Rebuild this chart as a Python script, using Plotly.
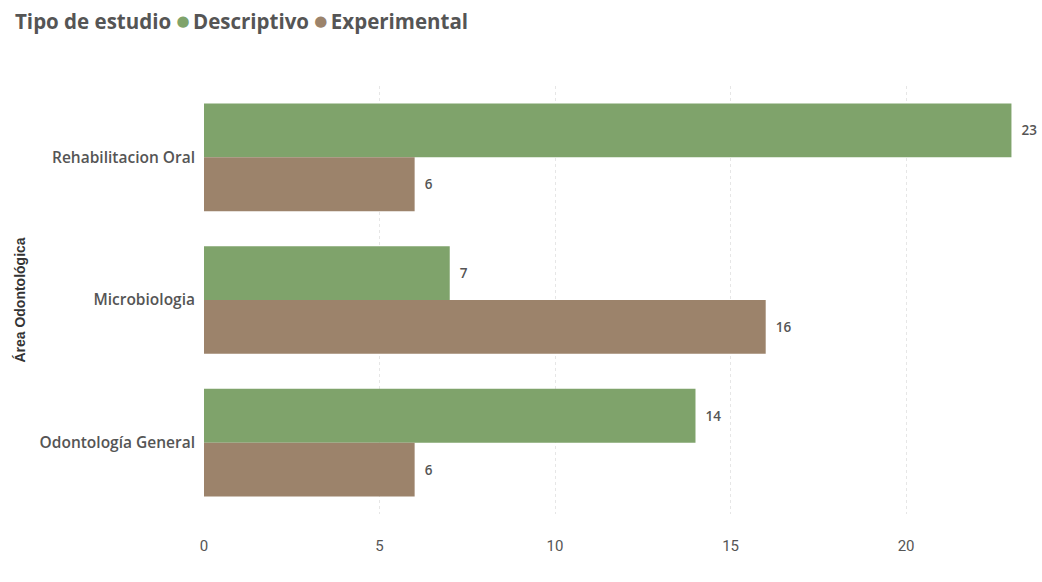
import plotly.graph_objects as go

# Studies per dental area, split by study type
areas = ["Rehabilitacion Oral", "Microbiologia", "Odontología General"]
descriptivo = [23, 7, 14]
experimental = [6, 16, 6]
x_ticks = [0, 5, 10, 15, 20]

green = "#7fa36b"
brown = "#9c836b"
text_col = "#555555"
font_family = "Open Sans, Noto Sans, sans-serif"
pad = "\u00a0\u00a0"

fig = go.Figure()

for name, vals, col in [("Descriptivo", descriptivo, green),
                        ("Experimental", experimental, brown)]:
    fig.add_trace(go.Bar(
        y=areas, x=vals, name=name, orientation="h",
        marker=dict(color=col, line=dict(width=0)),
        text=[pad + str(v) for v in vals], textposition="outside",
        textfont=dict(size=13.5, color=text_col, family=font_family, weight=600),
        cliponaxis=False, showlegend=False,
    ))

# Legend line drawn as text with coloured dots
dot = ("<span style='color:{c};font-family:DejaVu Sans;"
       "font-size:15px;baseline-shift:3px'>●</span>\u2009")
legend_html = (
    "Tipo de estudio "
    + dot.format(c=green) + "Descriptivo "
    + dot.format(c=brown) + "Experimental"
)

plot_w = 1042 - 204 - 13
plot_h = 582 - 86 - 68
fig.add_annotation(
    text=legend_html, xref="paper", yref="paper",
    x=(13 - 204) / plot_w, y=1 + (86 - 21) / plot_h,
    xanchor="left", yanchor="middle", showarrow=False,
    font=dict(size=20.5, color=text_col, family=font_family, weight=700),
)

fig.update_layout(
    width=1042, height=582,
    margin=dict(l=204, r=13, t=86, b=68, autoexpand=False),
    paper_bgcolor="white", plot_bgcolor="white",
    barmode="group", bargap=0.245, bargroupgap=0,
    font=dict(family=font_family, color=text_col),
    showlegend=False,
    xaxis=dict(
        range=[0, 23.5], tickvals=x_ticks,
        showgrid=True, gridcolor="#e6e6e6", griddash="dot", gridwidth=1,
        zeroline=False, showline=False,
        tickfont=dict(size=15, color=text_col,
                      family="Liberation Sans Narrow, Roboto, sans-serif"),
        ticklabelstandoff=21,
    ),
    yaxis=dict(
        categoryorder="array", categoryarray=areas, autorange="reversed",
        showgrid=False, zeroline=False, showline=False,
        tickfont=dict(size=15.5, color=text_col, weight=600),
        ticklabelstandoff=8,
        title=dict(text="<b>Área Odontológica</b>",
                   font=dict(size=14, color="#333333",
                             family="Liberation Sans, Arial, sans-serif"),
                   standoff=10),
    ),
)

fig.write_html("out.html")
